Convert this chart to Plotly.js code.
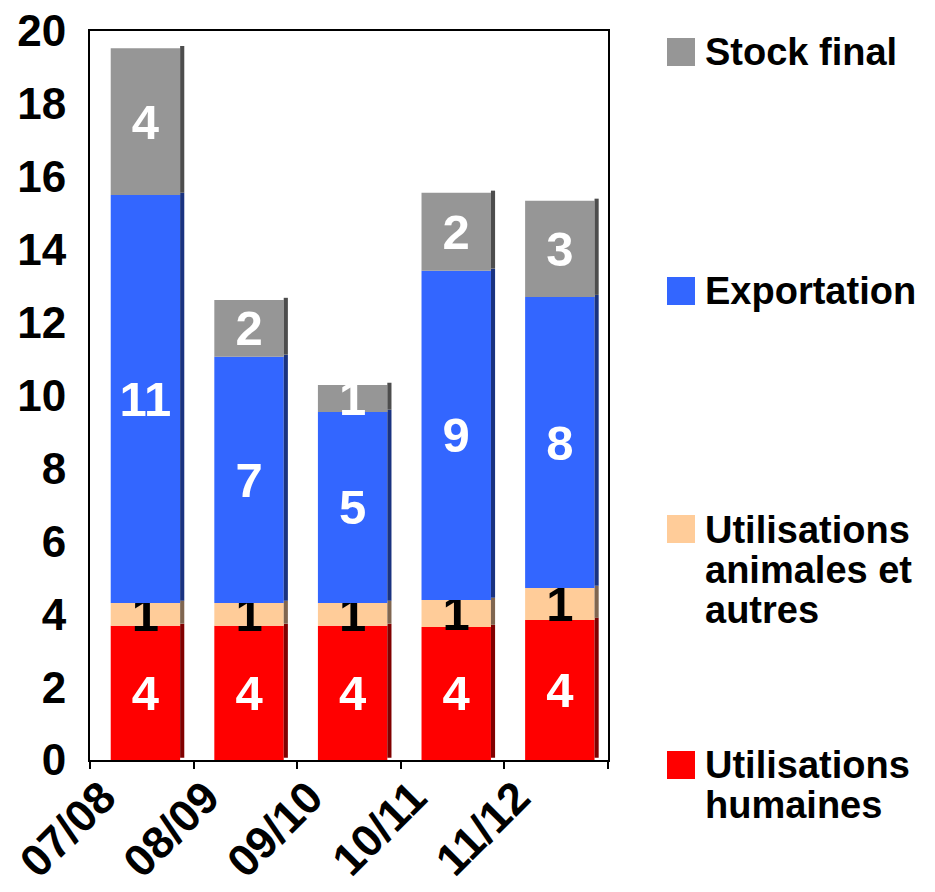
<!DOCTYPE html>
<html>
<head>
<meta charset="utf-8">
<script src="https://cdn.plot.ly/plotly-3.0.1.min.js"></script>
<style>html,body{margin:0;padding:0;background:#fff;}#chart{width:935px;height:892px;}</style>
</head>
<body>
<div id="chart"></div>
<script>
// ---- data ----
const categories = ['07/08', '08/09', '09/10', '10/11', '11/12'];
const humaines    = [3.68, 3.68, 3.68, 3.65, 3.84];
const animales    = [0.63, 0.63, 0.63, 0.74, 0.88];
const exportation = [11.19, 6.75, 5.24, 9.03, 7.98];
const stock       = [4.03, 1.56, 0.74, 2.14, 2.64];
const seriesNames = ['Utilisations humaines', 'Utilisations animales et autres', 'Exportation', 'Stock final'];
const legendLines = [['Utilisations', 'humaines'], ['Utilisations', 'animales et', 'autres'], ['Exportation'], ['Stock final']];
const yTicks = [0, 2, 4, 6, 8, 10, 12, 14, 16, 18, 20];

// ---- styles ----
const FONT = '"Liberation Sans", Arial, sans-serif';
const frontColors = ['#FF0000', '#FFCC99', '#3366FF', '#969696'];
const sideColors  = ['#800000', '#806650', '#1A3380', '#4D4D4D'];
const textColors  = ['#FFFFFF', '#000000', '#FFFFFF', '#FFFFFF'];
const series = [humaines, animales, exportation, stock];

const W = 935, H = 892;
const M = {l: 90, r: 327, t: 31, b: 132};
const plotW = W - M.l - M.r, plotH = H - M.t - M.b;
const px2x = p => (p - M.l) / plotW;
const px2y = p => (H - M.b - p) / plotH;

const FRONT_OFF = -0.30, FRONT_W = 0.67, SIDE_W = 0.04, LIFT = 0.06;

const traces = [];
let bases = categories.map(() => 0);
series.forEach((vals, i) => {
  const b = bases.slice();
  traces.push({
    type: 'bar', x: categories, y: vals, base: b,
    offset: FRONT_OFF, width: FRONT_W,
    marker: {color: frontColors[i], line: {width: 0}},
    name: seriesNames[i], showlegend: false,
    text: vals.map(v => String(Math.round(v))),
    textposition: 'inside', insidetextanchor: 'middle',
    constraintext: 'none', textangle: 0,
    textfont: {family: FONT, size: 49, color: textColors[i], weight: 'bold'},
    hoverinfo: 'x+y+name'
  });
  traces.push({
    type: 'bar', x: categories, y: vals, base: b.map(v => v + LIFT),
    offset: FRONT_OFF + FRONT_W, width: SIDE_W,
    marker: {color: sideColors[i], line: {width: 0}},
    showlegend: false, hoverinfo: 'skip'
  });
  bases = bases.map((v, k) => v + vals[k]);
});
// invisible trace to carry the shifted category labels
traces.push({type: 'scatter', mode: 'none', x: categories, y: humaines, xaxis: 'x2', yaxis: 'y', showlegend: false, hoverinfo: 'skip'});

// legend drawn as shapes + annotations
const squareCenters = [765, 529, 291, 52];
const lineCenters = [[765, 805], [530, 570, 610], [291], [52]];
const shapes = [], annotations = [];
seriesNames.forEach((n, i) => {
  const c = squareCenters[i];
  shapes.push({type: 'rect', xref: 'paper', yref: 'paper',
    x0: px2x(667), x1: px2x(695), y0: px2y(c + 14), y1: px2y(c - 14),
    fillcolor: frontColors[i], line: {width: 0}});
  legendLines[i].forEach((t, j) => {
    annotations.push({xref: 'paper', yref: 'paper', x: px2x(703), y: px2y(lineCenters[i][j]),
      xanchor: 'left', yanchor: 'middle', text: t, showarrow: false,
      font: {family: FONT, size: 38, color: '#000', weight: 'bold'}});
  });
});

const SHIFT = 0.38;
const layout = {
  width: W, height: H, margin: M,
  paper_bgcolor: '#fff', plot_bgcolor: '#fff',
  barmode: 'overlay', showlegend: false,
  font: {family: FONT, color: '#000'},
  xaxis: {type: 'category', categoryarray: categories, categoryorder: 'array',
    range: [-0.5, categories.length - 0.5], tickson: 'boundaries',
    ticks: 'outside', ticklen: 7, tickwidth: 2, tickcolor: '#000',
    showticklabels: false, showline: true, mirror: true, linewidth: 2, linecolor: '#000',
    showgrid: false, zeroline: false, fixedrange: true},
  xaxis2: {type: 'category', categoryarray: categories, categoryorder: 'array',
    overlaying: 'x', side: 'bottom', anchor: 'y',
    range: [-0.5 + SHIFT, categories.length - 0.5 + SHIFT],
    ticks: '', showline: false, showgrid: false, zeroline: false,
    tickangle: -45, ticklabelstandoff: 1,
    tickfont: {family: FONT, size: 45, color: '#000', weight: 'bold'}},
  yaxis: {range: [0, 20], tickmode: 'array', tickvals: yTicks, ticktext: yTicks.map(String),
    ticks: '', showline: true, mirror: true, linewidth: 2, linecolor: '#000',
    showgrid: false, zeroline: false, ticklabelstandoff: 13,
    tickfont: {family: FONT, size: 44, color: '#000', weight: 'bold'}},
  shapes: shapes, annotations: annotations
};

Plotly.newPlot('chart', traces, layout, {displayModeBar: false, staticPlot: true});
</script>
</body>
</html>
